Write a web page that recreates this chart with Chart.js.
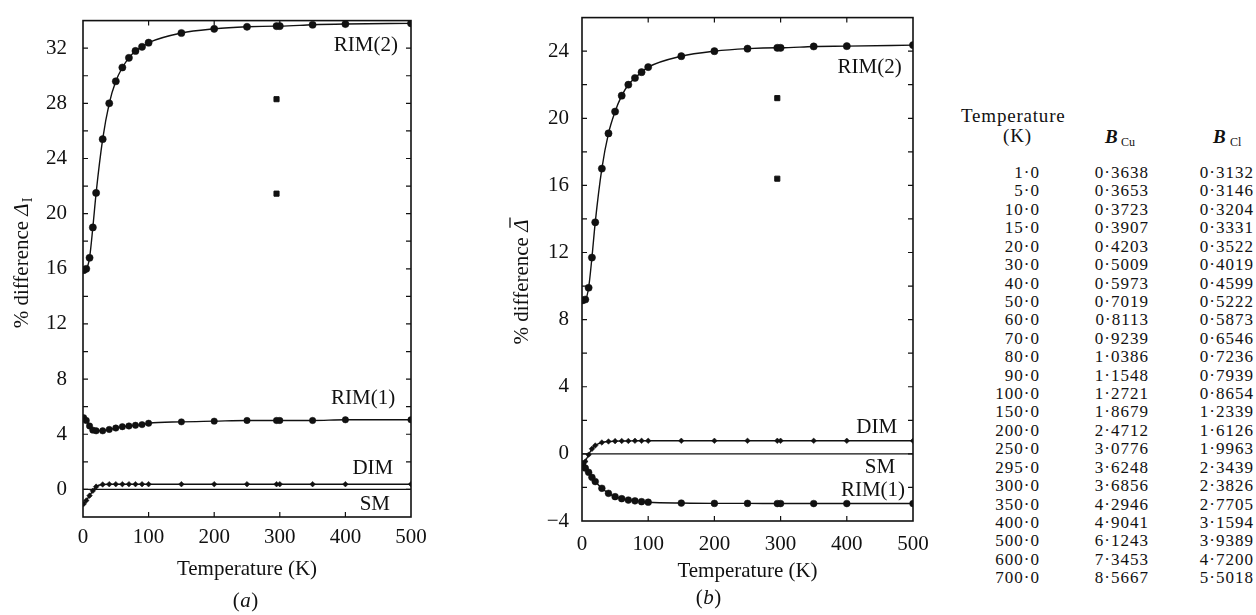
<!DOCTYPE html>
<html>
<head>
<meta charset="utf-8">
<script src="https://cdn.jsdelivr.net/npm/chart.js@4"></script>
<style>
  body { margin: 0; background: #fff; width: 1256px; height: 615px; overflow: hidden; position: relative;
         font-family: 'Liberation Serif', serif; color: #111; }
  canvas { position: absolute; top: 0; }
  #chartA { left: 0; }
  #chartB { left: 440px; }
  .col { position: absolute; top: 164px; font-size: 17px; line-height: 18.42px; text-align: right;
         letter-spacing: 1px; white-space: nowrap; }
  .hd { position: absolute; font-size: 19px; line-height: 19px; white-space: nowrap; letter-spacing: 0.8px; }
  .sub { position: absolute; font-size: 12px; line-height: 12px; white-space: nowrap; }
</style>
</head>
<body>
<canvas id="chartA" width="430" height="615"></canvas>
<canvas id="chartB" width="500" height="615"></canvas>

<div class="hd" style="left:961px; top:106px;">Temperature</div>
<div class="hd" style="left:1003px; top:126px;">(K)</div>
<div class="hd" style="left:1105px; top:127px; font-weight:bold; font-style:italic;">B</div>
<div class="sub" style="left:1121px; top:136px;">Cu</div>
<div class="hd" style="left:1213px; top:127px; font-weight:bold; font-style:italic;">B</div>
<div class="sub" style="left:1230px; top:136px;">Cl</div>
<div class="col" id="colT" style="right:216px;"></div>
<div class="col" id="colCu" style="right:107px;"></div>
<div class="col" id="colCl" style="right:2px;"></div>

<script>
// temperatures (K) of the calculated points
let temps = [1, 5, 10, 15, 20, 30, 40, 50, 60, 70, 80, 90, 100, 150, 200, 250, 295, 300, 350, 400, 500];

// (a) % difference Delta_I
let rim2A = [15.9, 16.0, 16.8, 19.0, 21.5, 25.4, 28.0, 29.6, 30.6, 31.3, 31.8, 32.1, 32.4, 33.1, 33.4, 33.55, 33.6, 33.6, 33.7, 33.75, 33.8];
let rim1A = [5.2, 5.0, 4.6, 4.3, 4.25, 4.25, 4.35, 4.45, 4.55, 4.6, 4.65, 4.7, 4.8, 4.9, 4.95, 5.0, 5.0, 5.0, 5.0, 5.05, 5.05];
let dimA = [-1.05, -0.8, -0.45, -0.1, 0.2, 0.36, 0.38, 0.38, 0.38, 0.38, 0.38, 0.38, 0.38, 0.38, 0.38, 0.38, 0.38, 0.38, 0.38, 0.38, 0.38];
let squaresA = [28.3, 21.45];

// (b) % difference Delta-bar
let rim2B = [9.15, 9.2, 9.9, 11.7, 13.8, 17.0, 19.1, 20.4, 21.35, 22.0, 22.4, 22.75, 23.05, 23.7, 24.0, 24.15, 24.2, 24.2, 24.28, 24.3, 24.36];
let rim1B = [-0.6, -0.85, -1.1, -1.4, -1.65, -2.05, -2.35, -2.55, -2.67, -2.75, -2.8, -2.85, -2.88, -2.93, -2.95, -2.95, -2.96, -2.96, -2.96, -2.96, -2.96];
let dimB = [-0.8, -0.45, -0.05, 0.3, 0.5, 0.68, 0.74, 0.76, 0.77, 0.77, 0.78, 0.78, 0.78, 0.78, 0.78, 0.78, 0.78, 0.78, 0.78, 0.78, 0.78];
let squaresB = [21.2, 16.4];
let squareT = 295;

// SM is the reference: zero everywhere
let smT = [0, 500];
let smVal = [0, 0];

// table
let tableT = ['1·0', '5·0', '10·0', '15·0', '20·0', '30·0', '40·0', '50·0', '60·0', '70·0', '80·0', '90·0', '100·0',
  '150·0', '200·0', '250·0', '295·0', '300·0', '350·0', '400·0', '500·0', '600·0', '700·0'];
let tableBCu = ['0·3638', '0·3653', '0·3723', '0·3907', '0·4203', '0·5009', '0·5973', '0·7019', '0·8113', '0·9239', '1·0386',
  '1·1548', '1·2721', '1·8679', '2·4712', '3·0776', '3·6248', '3·6856', '4·2946', '4·9041', '6·1243', '7·3453', '8·5667'];
let tableBCl = ['0·3132', '0·3146', '0·3204', '0·3331', '0·3522', '0·4019', '0·4599', '0·5222', '0·5873', '0·6546', '0·7236',
  '0·7939', '0·8654', '1·2339', '1·6126', '1·9963', '2·3439', '2·3826', '2·7705', '3·1594', '3·9389', '4·7200', '5·5018'];

document.getElementById('colT').innerHTML = tableT.join('<br>');
document.getElementById('colCu').innerHTML = tableBCu.join('<br>');
document.getElementById('colCl').innerHTML = tableBCl.join('<br>');

let ink = '#111';
let serif = '"Liberation Serif", serif';
Chart.defaults.font.family = serif;
Chart.defaults.color = ink;

function pts(xs, ys) {
  return xs.map((x, i) => ({ x: x, y: ys[i] }));
}

function curve(values, radius, style) {
  return {
    data: pts(temps, values),
    borderColor: ink, backgroundColor: ink, borderWidth: 1.4,
    pointRadius: radius, pointStyle: style || 'circle', pointBorderWidth: 0.5,
    cubicInterpolationMode: 'monotone'
  };
}

// frame, inward ticks, curve labels, axis titles and caption
let paperPlugin = {
  id: 'paper',
  afterDraw(chart, args, o) {
    let ctx = chart.ctx, a = chart.chartArea, xs = chart.scales.x, ys = chart.scales.y;
    ctx.save();
    ctx.strokeStyle = ink;
    ctx.fillStyle = ink;
    ctx.lineWidth = 1.6;
    ctx.strokeRect(a.left, a.top, a.right - a.left, a.bottom - a.top);

    ctx.lineWidth = 1.2;
    ctx.beginPath();
    for (let t = 100; t < 500; t += 100) {
      let px = xs.getPixelForValue(t);
      ctx.moveTo(px, a.bottom); ctx.lineTo(px, a.bottom - 5);
      ctx.moveTo(px, a.top); ctx.lineTo(px, a.top + 5);
    }
    for (let v = ys.min + 2; v < ys.max; v += 2) {
      let py = ys.getPixelForValue(v);
      ctx.moveTo(a.left, py); ctx.lineTo(a.left + 5, py);
      ctx.moveTo(a.right, py); ctx.lineTo(a.right - 5, py);
    }
    ctx.stroke();

    ctx.font = '21px ' + serif;
    ctx.textAlign = 'right';
    ctx.textBaseline = 'alphabetic';
    for (let l of o.labels) {
      ctx.fillText(l[0], xs.getPixelForValue(l[1]), ys.getPixelForValue(l[2]));
    }

    // x title
    ctx.textAlign = 'center';
    let cx = (a.left + a.right) / 2;
    ctx.fillText('Temperature (K)', cx, a.bottom + o.xTitleDy);

    // caption "(a)"
    ctx.textAlign = 'left';
    ctx.font = '21px ' + serif;
    let wp = ctx.measureText('(').width;
    ctx.font = 'italic 21px ' + serif;
    let wl = ctx.measureText(o.caption).width;
    let x0 = o.captionX - (2 * wp + wl) / 2, yb = o.captionY;
    ctx.font = '21px ' + serif;
    ctx.fillText('(', x0, yb);
    ctx.fillText(')', x0 + wp + wl + 1, yb);
    ctx.font = 'italic 21px ' + serif;
    ctx.fillText(o.caption, x0 + wp + 0.5, yb);

    // y title
    ctx.translate(o.yTitleX, o.yTitleY);
    ctx.rotate(-Math.PI / 2);
    ctx.font = '21px ' + serif;
    let w1 = ctx.measureText('% difference ').width;
    ctx.font = 'italic 21px ' + serif;
    let w2 = ctx.measureText('Δ').width;
    ctx.font = '14px ' + serif;
    let w3 = o.sub ? ctx.measureText(o.sub).width + 1 : 0;
    let x = -(w1 + w2 + w3) / 2, base = 7;
    ctx.font = '21px ' + serif;
    ctx.fillText('% difference ', x, base);
    ctx.font = 'italic 21px ' + serif;
    ctx.fillText('Δ', x + w1, base);
    if (o.sub) {
      ctx.font = '14px ' + serif;
      ctx.fillText(o.sub, x + w1 + w2 + 1, base + 4);
    }
    if (o.bar) {
      ctx.lineWidth = 1.3;
      ctx.beginPath();
      ctx.moveTo(x + w1 + 4, base - 18);
      ctx.lineTo(x + w1 + w2 + 2, base - 18);
      ctx.stroke();
    }
    ctx.restore();
  }
};

function makeChart(id, sets, yMin, yMax, box, paper) {
  return new Chart(document.getElementById(id), {
    type: 'line',
    data: { datasets: sets },
    options: {
      responsive: false,
      animation: false,
      devicePixelRatio: 1,
      layout: { padding: { left: 0, right: box.right, top: box.top, bottom: 0 } },
      plugins: { legend: { display: false }, tooltip: { enabled: false }, paper: paper },
      scales: {
        x: {
          type: 'linear', min: 0, max: 500,
          grid: { display: false }, border: { display: false },
          ticks: { stepSize: 100, padding: box.xPad, font: { size: 21 }, color: ink, maxRotation: 0, autoSkip: false },
          afterFit: s => { s.height = box.xh; }
        },
        y: {
          type: 'linear', min: yMin, max: yMax,
          grid: { display: false }, border: { display: false },
          ticks: {
            stepSize: 2, padding: box.yPad, font: { size: 21 }, color: ink, autoSkip: false,
            callback: v => (v % 4 === 0 && v < yMax) ? String(v).replace('-', '\u2212') : ''
          },
          afterFit: s => { s.width = box.yw; }
        }
      }
    },
    plugins: [paperPlugin]
  });
}

function squares(vals) {
  return {
    type: 'scatter', data: pts([squareT, squareT], vals), showLine: false,
    pointStyle: 'rect', pointRadius: 3.6, backgroundColor: ink, borderColor: ink
  };
}

function smLine() {
  return { data: pts(smT, smVal), borderColor: ink, borderWidth: 1.4, pointRadius: 0 };
}

makeChart('chartA', [
  curve(rim2A, 3.6),
  curve(rim1A, 3.2),
  curve(dimA, 2.8, 'rectRot'),
  smLine(),
  squares(squaresA)
], -2, 34,
  { right: 19, top: 13, xh: 98, yw: 83, xPad: 0, yPad: 8 },
  {
    labels: [['RIM(2)', 480, 31.8], ['RIM(1)', 476, 6.2], ['DIM', 473, 1.14], ['SM', 468, -1.5]],
    xTitleDy: 58, caption: 'a', captionX: 245, captionY: 607,
    yTitleX: 21, yTitleY: 263, sub: 'I', bar: false
  });

makeChart('chartB', [
  curve(rim2B, 3.6),
  curve(rim1B, 3.4),
  curve(dimB, 2.8, 'rectRot'),
  smLine(),
  squares(squaresB)
], -4, 26,
  { right: 27, top: 14, xh: 94, yw: 142, xPad: 3, yPad: 5 },
  {
    labels: [['RIM(2)', 483, 22.7], ['DIM', 476, 1.27], ['SM', 473, -1.16], ['RIM(1)', 488, -2.52]],
    xTitleDy: 56, caption: 'b', captionX: 268, captionY: 604,
    yTitleX: 81, yTitleY: 282, sub: '', bar: true
  });
</script>
</body>
</html>
